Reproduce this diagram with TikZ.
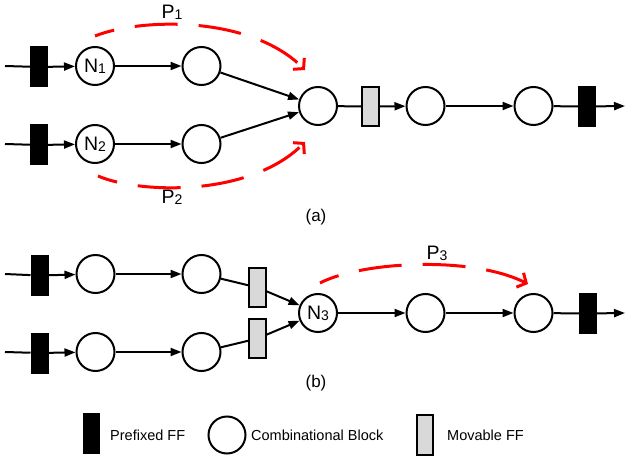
\documentclass[tikz,border=0pt]{standalone}
\usepackage{fontspec}
\setmainfont{Liberation Sans}
\usetikzlibrary{arrows.meta}
\newcommand\mysub[1]{\raisebox{-0.1ex}{\fontsize{14pt}{14pt}\selectfont #1}}
\tikzset{
  blk/.style={circle,draw,line width=2pt,minimum size=38pt,inner sep=0pt,font=\fontsize{19.5pt}{19.5pt}\selectfont},
  pff/.style={rectangle,draw,fill=black,line width=1pt,minimum width=17pt,minimum height=40pt,inner sep=0pt},
  mff/.style={rectangle,draw,fill=black!15,line width=1.6pt,minimum width=17pt,minimum height=39pt,inner sep=0pt},
  wire/.style={line width=2pt},
  arr/.style={wire,-{Triangle[length=11pt,width=8pt]}},
  redpath/.style={red,line width=3pt,dash pattern=on 43pt off 21pt,dash phase=23pt,-{Straight Barb[length=7pt,width=16pt,line width=3pt]}},
  lbl/.style={font=\fontsize{19.5pt}{19.5pt}\selectfont,inner sep=0pt},
  captxt/.style={font=\fontsize{17pt}{17pt}\selectfont,inner sep=0pt},
  leg/.style={font=\fontsize{14.5pt}{14.5pt}\selectfont,inner sep=0pt,anchor=west}
}
\begin{document}
\begin{tikzpicture}[x=1pt,y=-1pt]
\useasboundingbox (0,0) rectangle (626,457);
% ---------- (a) ----------
\coordinate (ia1) at (5,66);
\coordinate (ia2) at (5,144);
\node[pff] (fa1) at (39,67) {};
\node[pff] (fa2) at (39,145) {};
\node[blk] (n1) at (95,66) {N\mysub{1}};
\node[blk] (n2) at (95,144) {N\mysub{2}};
\node[blk] (a1) at (201.5,66) {};
\node[blk] (a2) at (201.5,144) {};
\node[blk] (am) at (318,106) {};
\node[mff] (ma) at (370.5,106.5) {};
\node[blk] (a3) at (425.5,106) {};
\node[blk] (a4) at (533.5,106) {};
\node[pff] (fa3) at (587,106.5) {};
\coordinate (oa) at (625,106);
\draw[wire] (ia1) -- (fa1);
\draw[wire] (ia2) -- (fa2);
\draw[arr] (fa1) -- (n1);
\draw[arr] (fa2) -- (n2);
\draw[arr] (n1) -- (a1);
\draw[arr] (n2) -- (a2);
\draw[arr] (a1) -- (am);
\draw[arr] (a2) -- (am);
\draw[wire] (am) -- (ma);
\draw[arr] (ma) -- (a3);
\draw[arr] (a3) -- (a4);
\draw[wire] (a4) -- (fa3);
\draw[arr] (fa3) -- (oa);
\coordinate (p1s) at (95,36);
\coordinate (p1e) at (305,70);
\coordinate (p2s) at (98,176);
\coordinate (p2e) at (305,142);
\draw[redpath] (p1s) .. controls (140,18) and (250,15) .. (p1e);
\draw[redpath] (p2s) .. controls (140,194) and (250,197) .. (p2e);
\node[lbl] (lp1) at (172,12) {P\mysub{1}};
\node[lbl] (lp2) at (172,197) {P\mysub{2}};
\node[captxt] (ca) at (316,217) {(a)};
% ---------- (b) ----------
\coordinate (ib1) at (5,274);
\coordinate (ib2) at (5,352);
\node[pff] (fb1) at (39.5,275.5) {};
\node[pff] (fb2) at (39.5,353) {};
\node[blk] (b1) at (95.5,274) {};
\node[blk] (b2) at (95.5,352) {};
\node[blk] (b3) at (201.5,274) {};
\node[blk] (b4) at (201.5,352) {};
\node[mff] (mb1) at (257.5,287.5) {};
\node[mff] (mb2) at (257.5,338.5) {};
\node[blk] (n3) at (318,313) {N\mysub{3}};
\node[blk] (b5) at (425.5,313) {};
\node[blk] (b6) at (533.5,313) {};
\node[pff] (fb3) at (588,313.5) {};
\coordinate (ob) at (625,313);
\draw[wire] (ib1) -- (fb1);
\draw[wire] (ib2) -- (fb2);
\draw[arr] (fb1) -- (b1);
\draw[arr] (fb2) -- (b2);
\draw[arr] (b1) -- (b3);
\draw[arr] (b2) -- (b4);
\draw[wire] (b3) -- (mb1);
\draw[wire] (b4) -- (mb2);
\draw[arr] (mb1) -- (n3);
\draw[arr] (mb2) -- (n3);
\draw[arr] (n3) -- (b5);
\draw[arr] (b5) -- (b6);
\draw[wire] (b6) -- (fb3);
\draw[arr] (fb3) -- (ob);
\coordinate (p3s) at (320,283);
\coordinate (p3e) at (528,284);
\draw[redpath] (p3s) .. controls (360,262) and (470,255) .. (p3e);
\node[lbl] (lp3) at (437,253) {P\mysub{3}};
\node[captxt] (cb) at (316,383) {(b)};
% ---------- legend ----------
\node[pff,minimum width=16pt] (lg1) at (91,433) {};
\node[leg] (lt1) at (110,435) {Prefixed FF};
\node[blk,minimum size=37pt] (lg2) at (227,435) {};
\node[leg] (lt2) at (251,435) {Combinational Block};
\node[mff,minimum width=16pt,minimum height=40pt] (lg3) at (425,435) {};
\node[leg] (lt3) at (447,435) {Movable FF};
\end{tikzpicture}
\end{document}
